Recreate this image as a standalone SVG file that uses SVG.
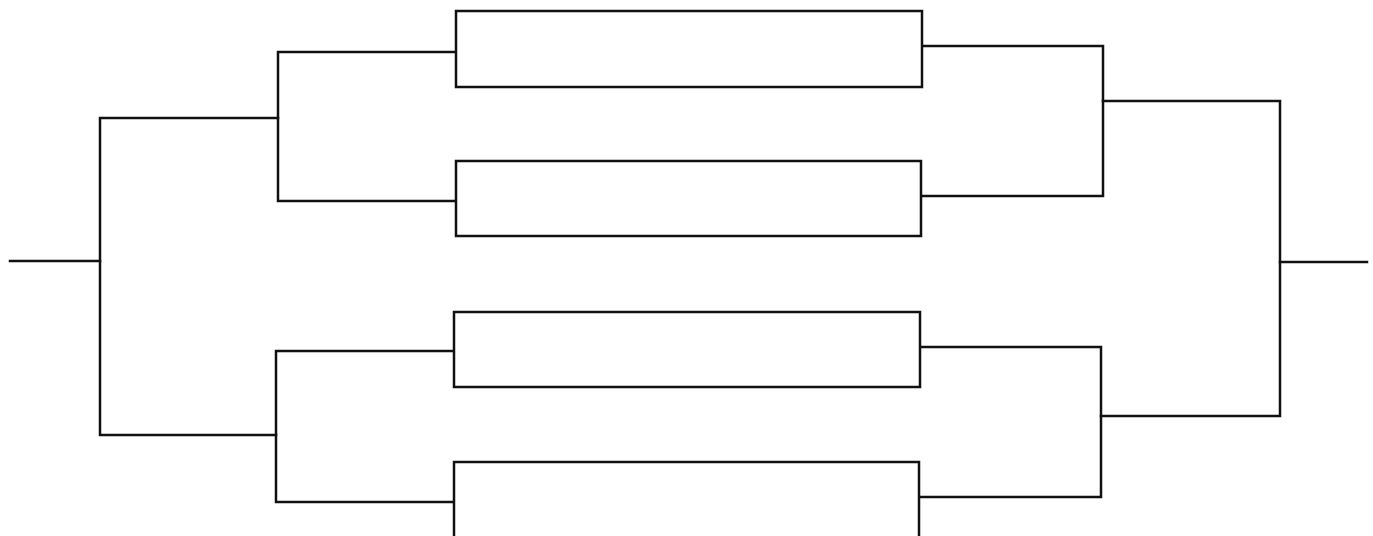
<svg xmlns="http://www.w3.org/2000/svg" width="1373" height="536" viewBox="0 0 1373 536">
  <style>
    .box { fill: #ffffff; stroke: #111111; stroke-width: 2.5; }
    .wire { fill: none; stroke: #111111; stroke-width: 2.5; stroke-linejoin: miter; stroke-linecap: square; }
  </style>
  <rect x="0" y="0" width="1373" height="536" fill="#ffffff"/>
  <g id="connectors">
    <!-- left output -->
    <path class="wire" d="M10 261 H100"/>
    <!-- left outer bracket -->
    <path class="wire" d="M278 118 H100 V435 H276"/>
    <!-- left upper bracket -->
    <path class="wire" d="M456 52 H278 V201 H456"/>
    <!-- left lower bracket -->
    <path class="wire" d="M454 351 H276 V502 H454"/>
    <!-- right upper bracket -->
    <path class="wire" d="M922 46 H1103 V196 H921"/>
    <!-- right lower bracket -->
    <path class="wire" d="M920 347 H1101 V497 H919"/>
    <!-- right outer bracket -->
    <path class="wire" d="M1103 101 H1280 V416 H1101"/>
    <!-- right output -->
    <path class="wire" d="M1280 262 H1367"/>
  </g>
  <g id="match1"><rect class="box" x="456" y="11" width="466" height="76"/></g>
  <g id="match2"><rect class="box" x="456" y="161" width="465" height="75"/></g>
  <g id="match3"><rect class="box" x="454" y="312" width="466" height="75"/></g>
  <g id="match4"><rect class="box" x="454" y="462" width="465" height="90"/></g>
</svg>
